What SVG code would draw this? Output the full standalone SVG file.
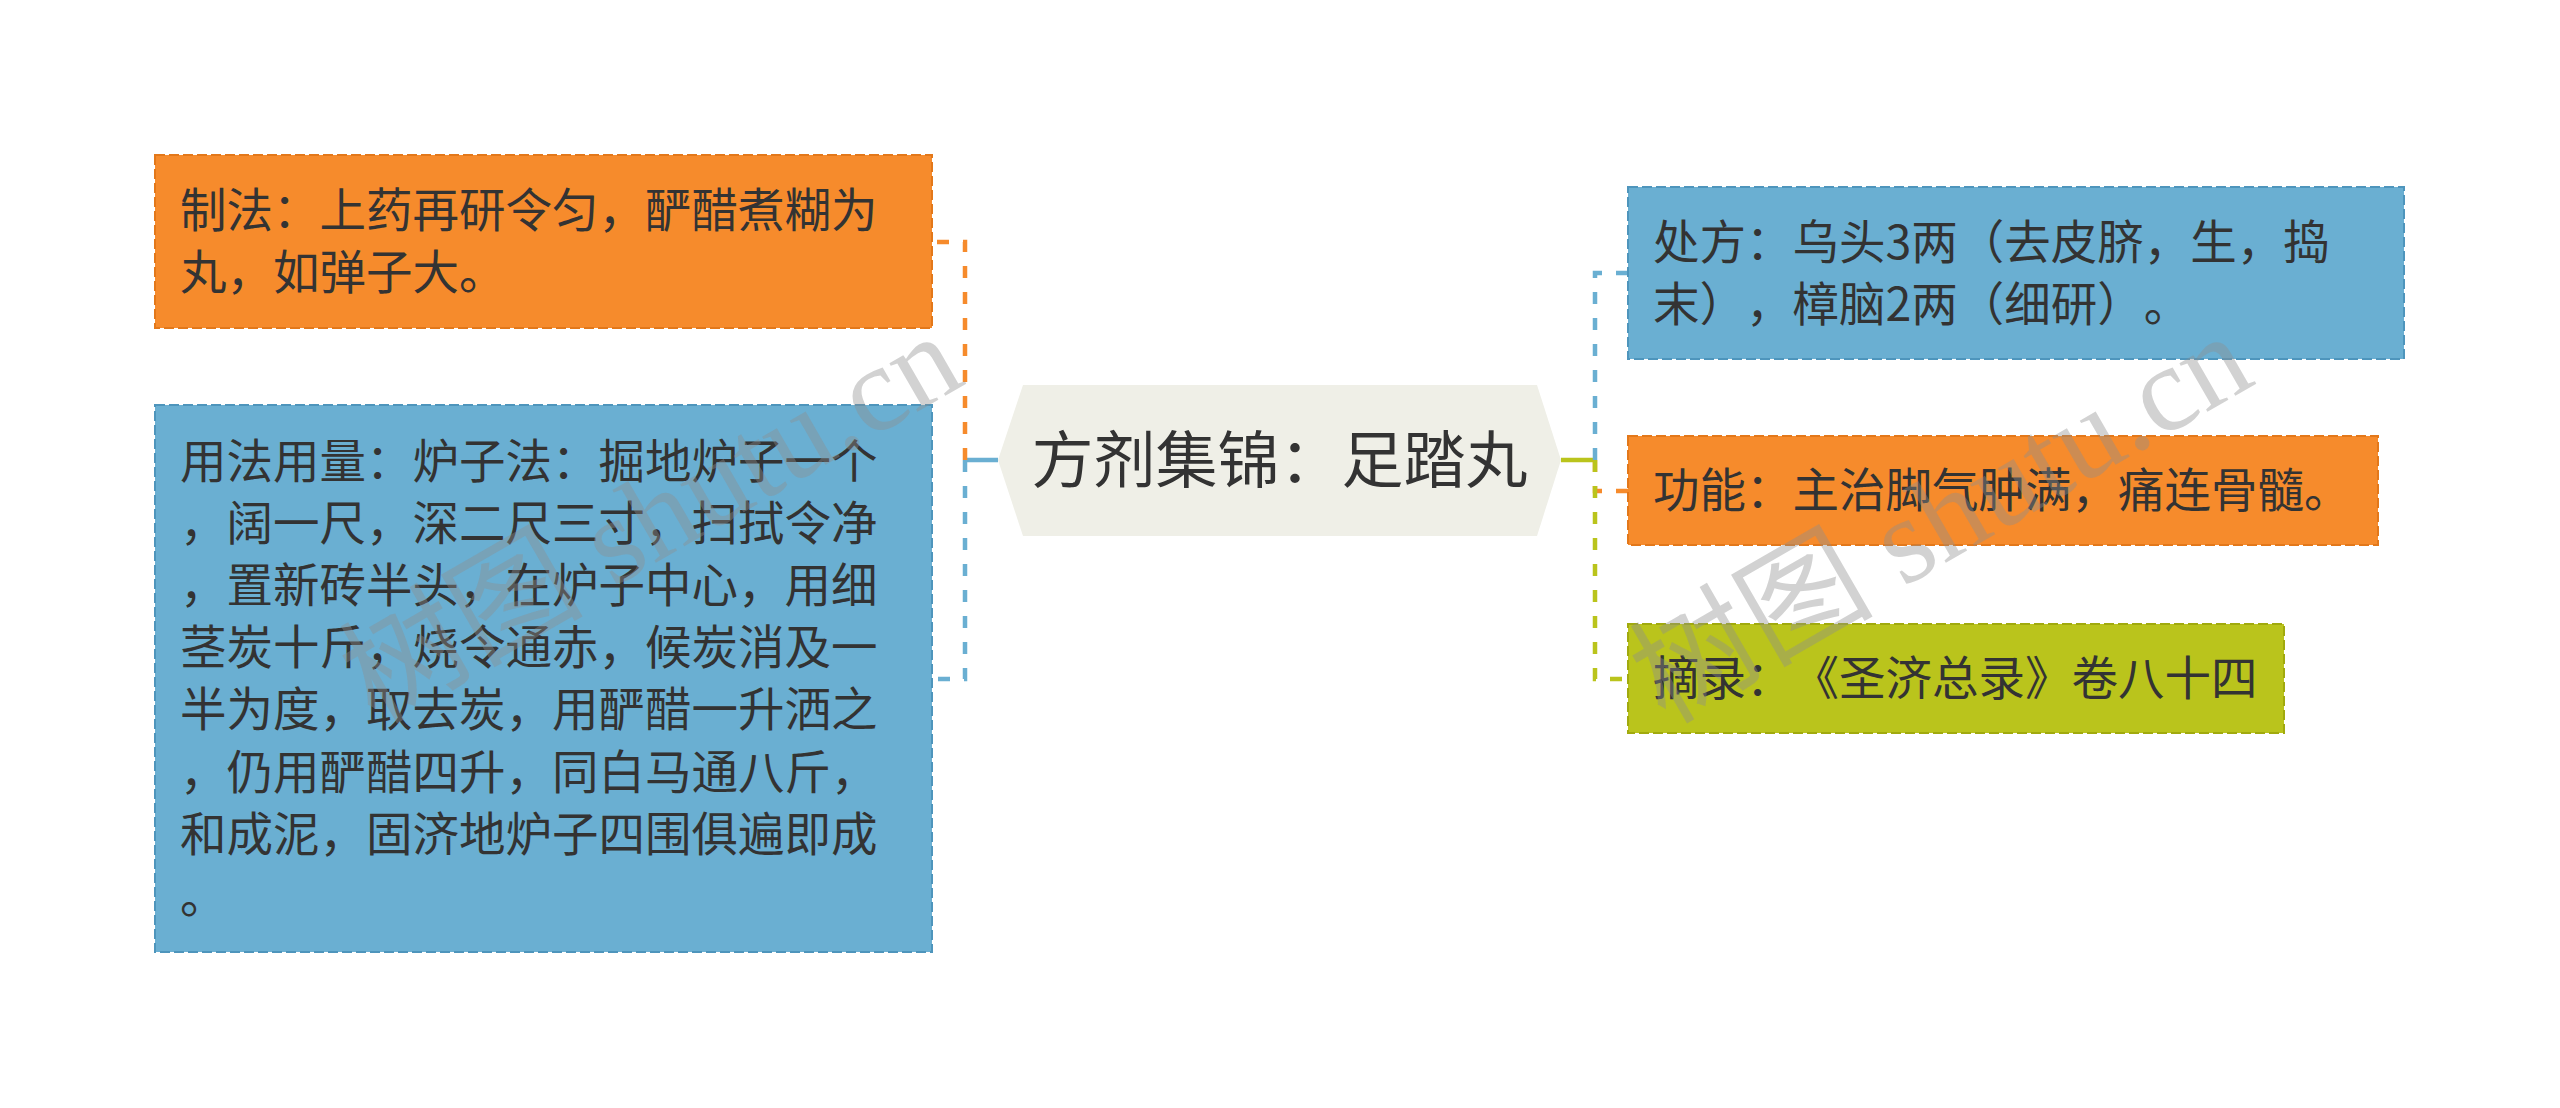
<svg xmlns="http://www.w3.org/2000/svg" width="2560" height="1108" viewBox="0 0 2560 1108">
<style>
text{text-spacing-trim:space-all}
.t{font-family:"Noto Sans CJK SC","Noto Sans",sans-serif;font-size:46.5px;fill:#333333}
.c{font-family:"Noto Sans CJK SC","Noto Sans",sans-serif;font-size:62px;fill:#333333}
.box{stroke-width:2;stroke-dasharray:10 4}
.or{fill:#F68B2C;stroke:#E3781A}
.bl{fill:#6AAFD2;stroke:#4E95BC}
.gr{fill:#BAC41C;stroke:#A1AA0E}
.ln{fill:none;stroke-width:4.5}
.dash{stroke-dasharray:12 14}
.wm{font-family:"Liberation Serif","Noto Sans CJK SC",serif;font-size:122px;fill:#8f8f8f;fill-opacity:0.4}
</style>
<rect width="2560" height="1108" fill="#ffffff"/>
<g id="connectors">
<path class="ln" stroke="#6AAFD2" d="M998 460H965"/>
<path class="ln dash" stroke="#F68B2C" d="M965 460V242H932"/>
<path class="ln dash" stroke="#6AAFD2" d="M965 460V679H932"/>
<path class="ln" stroke="#BAC41C" d="M1561 460H1595"/>
<path class="ln dash" stroke="#6AAFD2" d="M1595 460V273H1628"/>
<path class="ln dash" stroke="#F68B2C" d="M1595 460V491H1628"/>
<path class="ln dash" stroke="#BAC41C" d="M1595 460V679H1628"/>
</g>
<g id="center">
<polygon points="998,460 1023,385 1537,385 1561,460 1537,536 1023,536" fill="#EFEFE7"/>
<text class="c" x="1279.5" y="483" text-anchor="middle">方剂集锦：足踏丸</text>
</g>
<g id="zhifa">
<rect class="box or" x="155" y="155" width="777" height="173"/>
<text class="t" x="180" y="227">制法：上药再研令匀，酽醋煮糊为</text>
<text class="t" x="180" y="289">丸，如弹子大。</text>
</g>
<g id="yongfa">
<rect class="box bl" x="155" y="405" width="777" height="547"/>
<text class="t" x="180" y="478">用法用量：炉子法：掘地炉子一个</text>
<text class="t" x="180" y="540">，阔一尺，深二尺三寸，扫拭令净</text>
<text class="t" x="180" y="602">，置新砖半头，在炉子中心，用细</text>
<text class="t" x="180" y="664">茎炭十斤，烧令通赤，候炭消及一</text>
<text class="t" x="180" y="726">半为度，取去炭，用酽醋一升洒之</text>
<text class="t" x="180" y="789">，仍用酽醋四升，同白马通八斤，</text>
<text class="t" x="180" y="851">和成泥，固济地炉子四围俱遍即成</text>
<text class="t" x="180" y="913">。</text>
</g>
<g id="chufang">
<rect class="box bl" x="1628" y="187" width="776" height="172"/>
<text class="t" x="1653" y="259">处方：乌头3两（去皮脐，生，捣</text>
<text class="t" x="1653" y="321">末），樟脑2两（细研）。</text>
</g>
<g id="gongneng">
<rect class="box or" x="1628" y="436" width="750" height="109"/>
<text class="t" x="1653" y="507">功能：主治脚气肿满，痛连骨髓。</text>
</g>
<g id="zhailu">
<rect class="box gr" x="1628" y="624" width="656" height="109"/>
<text class="t" x="1653" y="695">摘录：《圣济总录》卷八十四</text>
</g>
<g id="watermark">
<text class="wm" transform="translate(375 725) rotate(-30)">树图 shutu.cn</text>
<text class="wm" transform="translate(1665 725) rotate(-30)">树图 shutu.cn</text>
</g>
</svg>
